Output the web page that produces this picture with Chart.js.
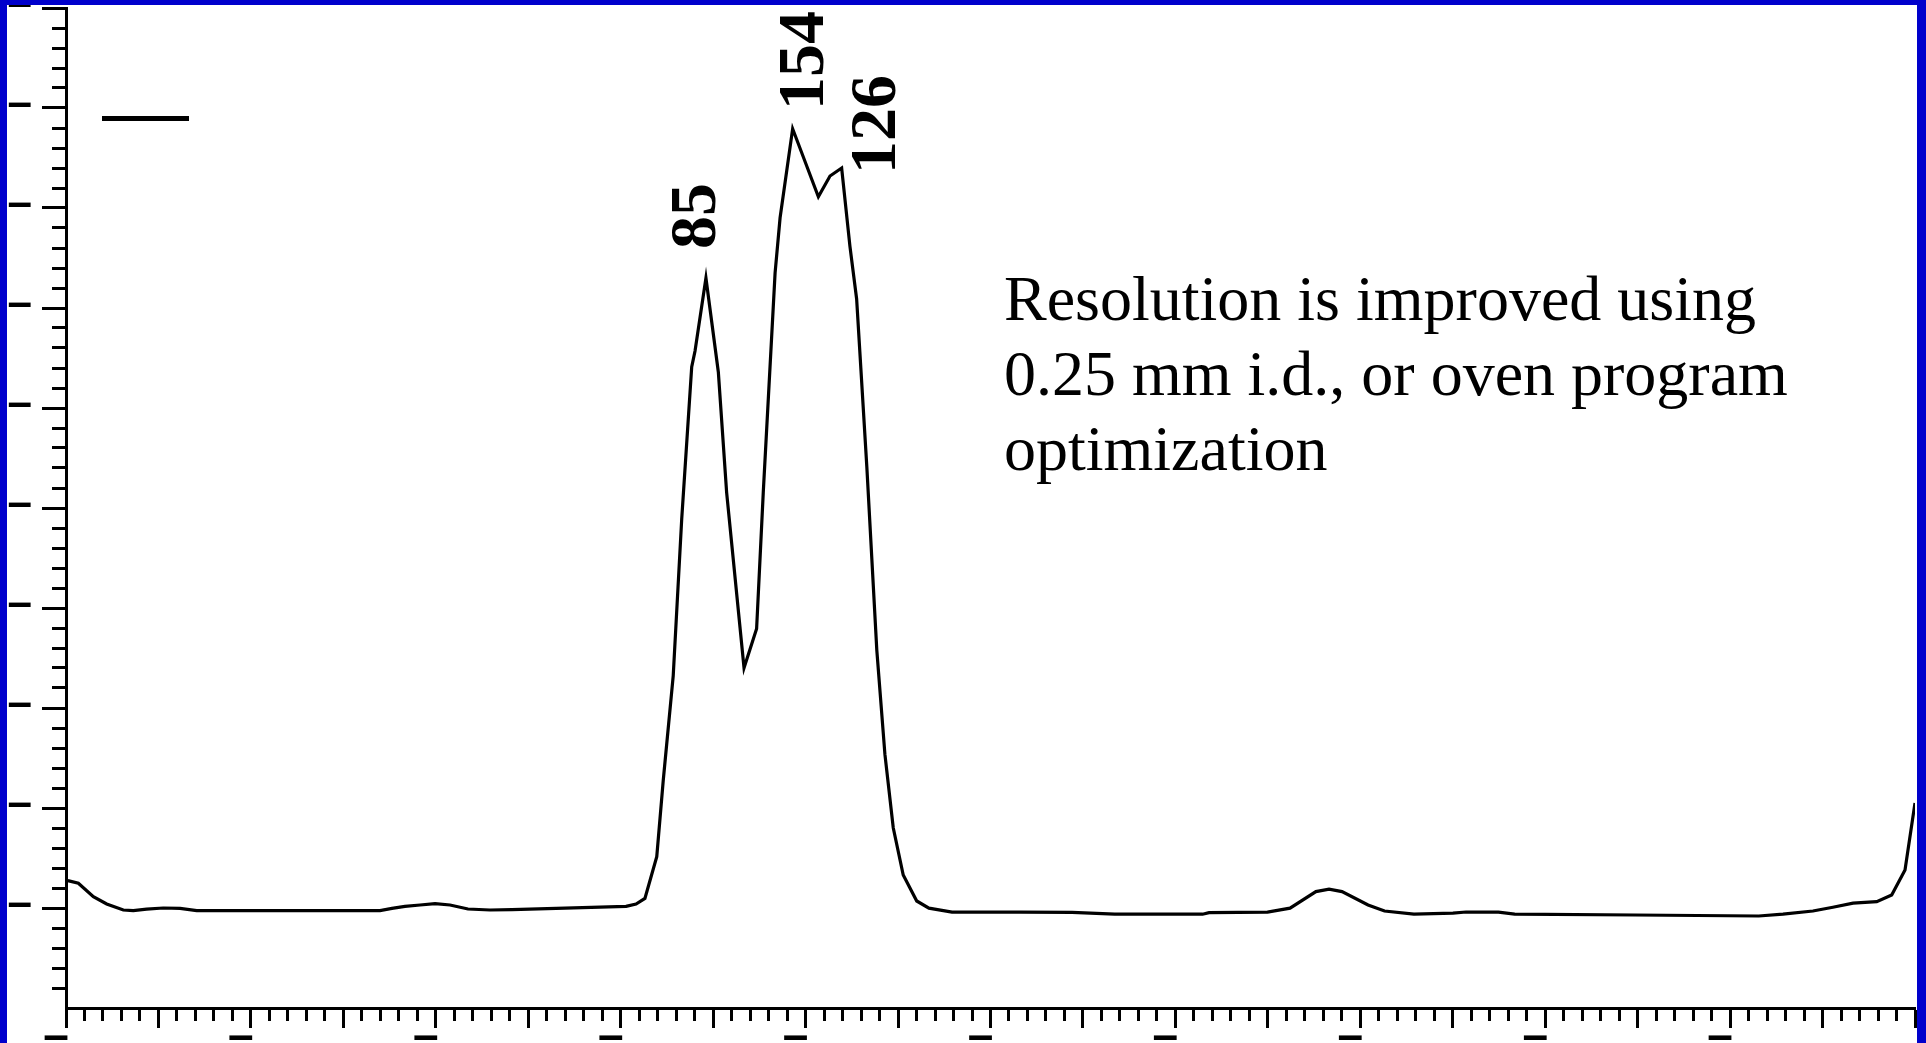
<!DOCTYPE html>
<html>
<head>
<meta charset="utf-8">
<title>Chromatogram</title>
<script src="https://cdn.jsdelivr.net/npm/chart.js@4.4.0/dist/chart.umd.min.js"></script>
<style>
  html, body { margin: 0; padding: 0; background: #0000cc; overflow: hidden; }
  #frame { position: absolute; left: 7px; top: 5px; width: 1910px; height: 1038px; background: #fff; }
  canvas { display: block; }
</style>
</head>
<body>
<div id="frame"><canvas id="gc" width="1910" height="1038"></canvas></div>
<script>
// trace; x in minor x-ticks, y in minor y-ticks
const timeValues = [0.1, 0.67, 1.48, 2.2, 3.1, 3.64, 4.36, 5.26, 6.17, 7.07, 12.66, 16.98, 17.63, 18.33, 19.15,
  19.96, 20.77, 21.74, 22.93, 24.12, 26.99, 30.29, 30.83, 31.31, 31.95, 32.3, 32.84, 33.3, 33.84, 34.02,
  34.61, 35.28, 35.73, 36.67, 37.35, 37.71, 38.35, 38.62, 39.3, 40.69, 41.32, 41.95, 42.4, 42.76, 43.31, 43.85,
  44.29, 44.74, 45.28, 46.01, 46.67, 47.92, 51.6, 54.41, 56.72, 61.47, 61.82, 64.98, 66.2, 67.6, 68.31, 69.01,
  70.42, 71.31, 72.9, 75.01, 75.72, 77.47, 78.35, 84.86, 91.55, 92.86, 94.48, 95.56, 96.65, 97.93, 98.74, 99.46, 100];
const signalValues = [6.37, 6.24, 5.57, 5.2, 4.9, 4.87, 4.94, 5.0, 4.98, 4.87, 4.87, 4.87, 4.98, 5.08, 5.15,
  5.22, 5.15, 4.95, 4.9, 4.92, 4.99, 5.08, 5.2, 5.48, 7.57, 11.37, 16.6, 24.45, 32.05, 32.85,
  36.5, 31.8, 25.77, 17.0, 18.96, 25.77, 36.76, 39.51, 43.96, 40.56, 41.6, 42.0, 38.07, 35.45, 27.08, 17.91,
  12.68, 9.01, 6.65, 5.35, 4.99, 4.79, 4.79, 4.78, 4.69, 4.69, 4.77, 4.79, 4.99, 5.82, 5.94, 5.82,
  5.15, 4.85, 4.69, 4.74, 4.8, 4.79, 4.69, 4.65, 4.6, 4.69, 4.85, 5.04, 5.24, 5.32, 5.65, 6.9, 10.25];

// axis ranges and tick spacing (tick labels in the original are bare dashes)
const xMin = 0, xMax = 100, xMajorEvery = 5, xLabelEvery = 10;
const yMin = 0, yMax = 50, yMajorEvery = 5;
const tickLabel = '\u2013';

const peakLabels = ['85', '154', '126'];
const noteLines = ['Resolution is improved using', '0.25 mm i.d., or oven program', 'optimization'];

// rotated peak numbers + the note text
const notesPlugin = {
  id: 'notes',
  afterDatasetsDraw(chart, args, opts) {
    const { ctx } = chart;
    const x = chart.scales.x, y = chart.scales.y;
    ctx.save();
    ctx.fillStyle = '#000';
    ctx.textAlign = 'left';
    ctx.textBaseline = 'alphabetic';
    ctx.font = opts.peakFont;
    opts.peakAt.forEach((p, i) => {
      ctx.save();
      ctx.translate(x.getPixelForValue(p[0]), y.getPixelForValue(p[1]));
      ctx.rotate(-Math.PI / 2);
      ctx.fillText(peakLabels[i], 0, 0);
      ctx.restore();
    });
    ctx.font = opts.noteFont;
    const nx = x.getPixelForValue(opts.noteAt[0]);
    const ny = y.getPixelForValue(opts.noteAt[1]);
    noteLines.forEach((line, i) => ctx.fillText(line, nx, ny + i * opts.lineGap));
    ctx.restore();
  }
};

const isMult = (v, n) => Math.abs(v / n - Math.round(v / n)) < 1e-6;

new Chart(document.getElementById('gc'), {
  type: 'line',
  data: {
    datasets: [{
      label: '',
      data: timeValues.map((t, i) => ({ x: t, y: signalValues[i] })),
      borderColor: '#000',
      backgroundColor: '#000',
      borderWidth: 3.2,
      pointRadius: 0,
      tension: 0,
      fill: false
    }]
  },
  options: {
    responsive: false,
    animation: false,
    devicePixelRatio: 1,
    layout: { padding: { top: 3, right: 2, left: 0, bottom: 0 } },
    plugins: {
      tooltip: { enabled: false },
      legend: {
        display: true,
        position: 'chartArea',
        align: 'start',
        labels: {
          boxWidth: 87,
          boxHeight: 5,
          padding: 36,
          font: { size: 155 },
          generateLabels: () => [{ text: '', fillStyle: '#000', strokeStyle: '#000', lineWidth: 0, hidden: false, datasetIndex: 0 }]
        }
      },
      notes: {
        peakFont: 'bold 66px "Liberation Serif", "Times New Roman", serif',
        noteFont: '64px "Liberation Serif", "Times New Roman", serif',
        peakAt: [[35.1, 37.95], [40.93, 44.9], [44.83, 41.7]],
        noteAt: [50.73, 34.4],
        lineGap: 75
      }
    },
    scales: {
      x: {
        type: 'linear',
        min: xMin,
        max: xMax,
        border: { display: true, color: '#000', width: 3 },
        grid: {
          drawOnChartArea: false,
          drawTicks: true,
          tickLength: 20,
          tickWidth: 3,
          tickColor: '#000',
          tickBorderDash: (c) => (c.tick && !isMult(c.tick.value, xMajorEvery)) ? [11, 20] : []
        },
        ticks: {
          stepSize: 1,
          autoSkip: false,
          maxRotation: 0,
          minRotation: 0,
          labelOffset: -10,
          padding: -14,
          color: '#000',
          font: { family: '"Liberation Sans", Arial, sans-serif', weight: 'bold', size: 46, lineHeight: 1 },
          callback: (v) => (isMult(v, xLabelEvery) && v < xMax) ? tickLabel : ''
        },
        afterFit: (s) => { s.height = 35; s.paddingLeft = 0; s.paddingRight = 0; }
      },
      y: {
        type: 'linear',
        min: yMin,
        max: yMax,
        border: { display: true, color: '#000', width: 3 },
        grid: {
          drawOnChartArea: false,
          drawTicks: true,
          tickLength: 24,
          tickWidth: 3,
          tickColor: (c) => (c.tick && c.tick.value === yMin) ? 'rgba(0,0,0,0)' : '#000',
          tickBorderDash: (c) => (c.tick && !isMult(c.tick.value, yMajorEvery)) ? [0, 10, 14, 0] : []
        },
        ticks: {
          stepSize: 1,
          autoSkip: false,
          padding: 10,
          labelOffset: -3,
          color: '#000',
          font: { family: '"Liberation Sans", Arial, sans-serif', weight: 'bold', size: 44 },
          callback: (v) => (isMult(v, yMajorEvery) && v > yMin) ? tickLabel : ''
        },
        afterFit: (s) => { s.width = 59; s.paddingTop = 0; s.paddingBottom = 0; }
      }
    }
  },
  plugins: [notesPlugin]
});
</script>
</body>
</html>
